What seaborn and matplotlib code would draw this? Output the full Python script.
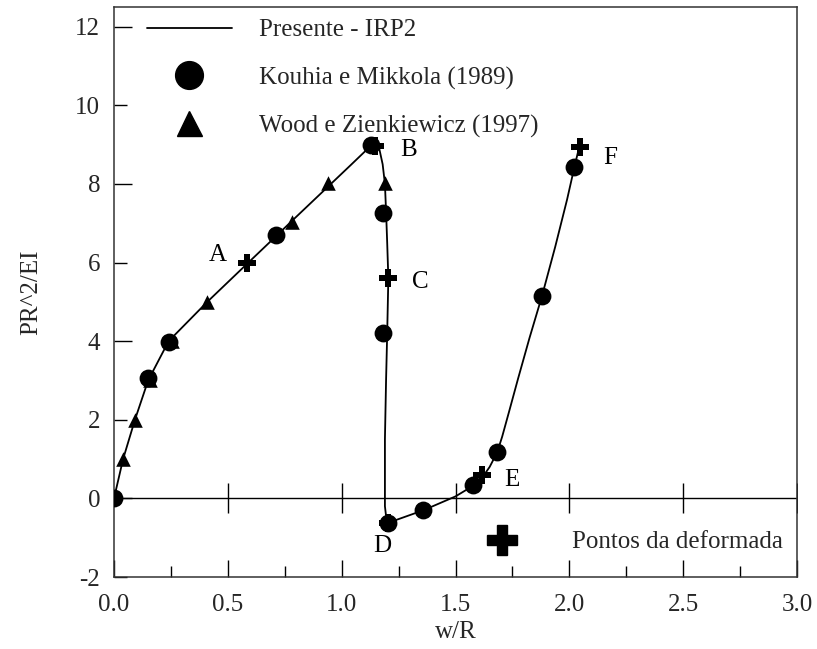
import matplotlib
matplotlib.use("Agg")
import matplotlib.pyplot as plt
from matplotlib.lines import Line2D
import numpy as np
import pandas as pd
import seaborn as sns

# ---- data -------------------------------------------------------------
# Present solution (IRP2): equilibrium path w/R vs PR^2/EI
presente_x = [0.0, 0.02, 0.04, 0.092, 0.15, 0.24, 0.41, 0.585, 0.71, 0.78, 0.94,
              1.04, 1.13, 1.15, 1.165, 1.18, 1.19, 1.195, 1.2, 1.205, 1.2, 1.195,
              1.19, 1.19, 1.19, 1.195, 1.205, 1.36, 1.5, 1.58, 1.62, 1.65, 1.683,
              1.705, 1.735, 1.775, 1.825, 1.88, 1.938, 1.99, 2.022, 2.043]
presente_y = [0.0, 0.5, 1.0, 2.0, 3.0, 4.0, 5.0, 5.97, 6.66, 7.05, 7.93,
              8.48, 8.98, 9.0, 8.9, 8.5, 8.0, 7.3, 6.5, 5.6, 4.2, 3.0,
              1.5, 0.3, -0.2, -0.45, -0.62, -0.3, 0.05, 0.33, 0.55, 0.8, 1.17,
              1.57, 2.2, 3.05, 4.08, 5.15, 6.4, 7.6, 8.42, 8.93]

# Kouhia e Mikkola (1989)
kouhia_x = [0.0, 0.15, 0.24, 0.71, 1.128, 1.18, 1.18, 1.205, 1.358, 1.578, 1.683, 1.88, 2.02]
kouhia_y = [0.0, 3.05, 3.98, 6.7, 8.98, 7.27, 4.2, -0.62, -0.3, 0.33, 1.17, 5.15, 8.42]

# Wood e Zienkiewicz (1997)
wood_x = [0.04, 0.092, 0.16, 0.255, 0.41, 0.78, 0.94, 1.19]
wood_y = [1.0, 2.0, 3.0, 4.0, 5.0, 7.04, 8.03, 8.03]

# Deformed-shape points A..F
pontos_lbl = ["A", "B", "C", "D", "E", "F"]
pontos_x = [0.585, 1.145, 1.205, 1.205, 1.617, 2.045]
pontos_y = [6.0, 8.97, 5.6, -0.62, 0.59, 8.93]
# label anchor positions
lbl_x = [0.457, 1.296, 1.344, 1.18, 1.749, 2.18]
lbl_y = [6.2, 8.85, 5.51, -1.2, 0.48, 8.67]

x_major = [0.0, 0.5, 1.0, 1.5, 2.0, 2.5, 3.0]
x_minor = [0.25, 0.75, 1.25, 1.75, 2.25, 2.75]
y_ticks = [-2, 0, 2, 4, 6, 8, 10, 12]
zero_marks = [0.5, 1.0, 1.5, 2.0, 2.5, 3.0]

# ---- style ------------------------------------------------------------
sns.set_theme(style="white")
plt.rcParams["font.family"] = ["Liberation Serif", "DejaVu Serif"]
FS = 18

fig = plt.figure(figsize=(8.17, 6.49), dpi=100)
ax = fig.add_axes([114 / 817, 1 - 577 / 649, 683 / 817, 570 / 649])

df_line = pd.DataFrame({"x": presente_x, "y": presente_y})
df_k = pd.DataFrame({"x": kouhia_x, "y": kouhia_y})
df_w = pd.DataFrame({"x": wood_x, "y": wood_y})
df_p = pd.DataFrame({"x": pontos_x, "y": pontos_y})

# zero line with crossing tick marks
ax.axhline(0, color="black", lw=1.0, zorder=1)
ax.plot(zero_marks, [0] * len(zero_marks), ls="none", marker="|",
        markersize=21, markeredgewidth=1.0, color="black", zorder=1)

sns.lineplot(data=df_line, x="x", y="y", sort=False, estimator=None,
             color="black", lw=1.3, ax=ax, zorder=2)
sns.scatterplot(data=df_p, x="x", y="y", marker="P", s=175, color="black",
                linewidth=0, ax=ax, zorder=3)
sns.scatterplot(data=df_w, x="x", y="y", marker="^", s=110, color="black",
                linewidth=0, ax=ax, zorder=3)
sns.scatterplot(data=df_k, x="x", y="y", marker="o", s=165, color="black",
                linewidth=0, ax=ax, zorder=4)

for t, lx, ly in zip(pontos_lbl, lbl_x, lbl_y):
    ax.text(lx, ly, t, fontsize=FS, ha="center", va="center", color="black")

# ---- axes -------------------------------------------------------------
ax.set_xlim(0, 3.0)
ax.set_ylim(-2, 12.5)
ax.set_xticks(x_major)
ax.set_xticklabels([f"{v:.1f}" for v in x_major])
ax.set_xticks(x_minor, minor=True)
ax.set_yticks(y_ticks)
ax.set_yticklabels([str(v) for v in y_ticks])

ax.tick_params(axis="x", which="major", direction="in", length=12, width=1,
               labelsize=FS, pad=12, color="black", bottom=True, top=False)
ax.tick_params(axis="x", which="minor", direction="in", length=8, width=1,
               color="black", bottom=True, top=False)
ax.tick_params(axis="y", which="major", direction="in", length=13, width=1,
               labelsize=FS, pad=10, color="black", left=True, right=False)
# shorter marks at 2, 6, 10
for tk, v in zip(ax.yaxis.get_major_ticks(), y_ticks):
    if v % 4 != 0:
        tk.tick1line.set_markersize(9)

for sp in ax.spines.values():
    sp.set_color("#333333")
    sp.set_linewidth(1.1)

ax.set_xlabel("w/R", fontsize=FS, labelpad=4)
ax.set_ylabel("PR^2/EI", fontsize=FS, labelpad=24)

# ---- legends ----------------------------------------------------------
h1 = [Line2D([], [], color="black", lw=1.3),
      Line2D([], [], ls="none", marker="o", markersize=20, color="black"),
      Line2D([], [], ls="none", marker="^", markersize=18, color="black")]
l1 = ["Presente - IRP2", "Kouhia e Mikkola (1989)", "Wood e Zienkiewicz (1997)"]
leg1 = ax.legend(h1, l1, loc="upper left", bbox_to_anchor=(0.048, 0.979),
                 frameon=False, fontsize=FS, handlelength=3.4,
                 handletextpad=1.1, labelspacing=1.0, borderpad=0,
                 borderaxespad=0)
ax.add_artist(leg1)

h2 = [Line2D([], [], ls="none", marker="P", markersize=21, color="black")]
ax.legend(h2, ["Pontos da deformada"], loc="upper left",
          bbox_to_anchor=(0.506, 0.081), frameon=False, fontsize=FS,
          handlelength=3.4, handletextpad=1.1, borderpad=0, borderaxespad=0)

fig.savefig("out.png", dpi=100)
